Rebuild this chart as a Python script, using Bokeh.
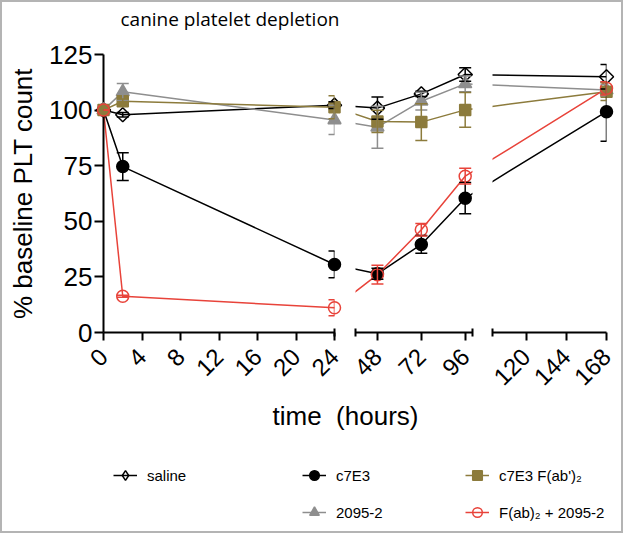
import math
from bokeh.plotting import figure
from bokeh.models import (ColumnDataSource, Range1d, FixedTicker, Whisker, TeeHead,
                          Legend, LegendItem, Label)
from bokeh.layouts import row, column
from bokeh.embed import file_html
from bokeh.resources import INLINE

# ---------------- data ----------------
hours = [0, 2, 24, 48, 72, 96, 168]

saline = [100, 97.9, 102.2, 100.9, 107.3, 116.0, 115.0]
saline_err = [0, 1.0, 1.5, 5.0, 1.2, 3.0, 5.5]

c7e3 = [100, 74.6, 30.6, 26.4, 39.6, 60.4, 99.3]
c7e3_err = [0, 6.2, 6.0, 2.5, 4.0, 7.0, 13.3]

fab = [100, 104.0, 101.3, 94.9, 94.6, 100.1, 108.3]
fab_err = [0, 1.0, 5.2, 5.0, 8.3, 7.8, 4.0]

a2095 = [100, 108.2, 95.6, 92.3, 104.0, 111.8, 109.0]
a2095_err = [0, 3.8, 6.6, 9.4, 4.0, 3.5, 2.5]

fab_2095 = [100, 16.3, 11.1, 26.0, 46.2, 70.3, 109.8]
fab_2095_err = [0, 0.5, 3.6, 4.2, 2.8, 3.5, 3.0]

names = ["saline", "c7E3", "c7E3 F(ab')\u2082", "2095-2", "F(ab)\u2082 + 2095-2"]

seg_lo = [0, 36, 100]
seg_hi = [24, 100, 168]
seg_ticks = [[0, 4, 8, 12, 16, 20, 24], [48, 72, 96], [120, 144, 168]]
seg_caps = [[24], [36, 100], [100]]
y_ticks = [0, 25, 50, 75, 100, 125]

# ---------------- layout / style ----------------
FONT = "Liberation Sans"
frame_w = [231, 117, 114]
frame_h = 278
border_l = [101, 11, 10]
border_r = [10, 10, 15]
TH = 30
border_t = 52 - TH
border_b = 66

series = [
    dict(y=saline, e=saline_err, color="black", marker="square", angle=math.pi / 4, size=10, fill=False, lmarker="diamond"),
    dict(y=c7e3, e=c7e3_err, color="black", marker="circle", angle=0, size=12, fill=True, lmarker="circle"),
    dict(y=fab, e=fab_err, color="#8c7b3c", marker="square", angle=0, size=11, fill=True, lmarker="square"),
    dict(y=a2095, e=a2095_err, color="#8e8e8e", marker="triangle", angle=0, size=13, fill=True, lmarker="triangle"),
    dict(y=fab_2095, e=fab_2095_err, color="#e8433a", marker="circle", angle=0, size=12, fill=False, lmarker="circle"),
]
draw_order = [0, 1, 3, 2, 4]

# common display coordinate across the broken axis
lefts = [0]
for k in range(1, 3):
    lefts.append(lefts[-1] + frame_w[k - 1] + border_r[k - 1] + border_l[k])


def g(h):
    for k in range(3):
        if seg_lo[k] <= h <= seg_hi[k]:
            return lefts[k] + (h - seg_lo[k]) * frame_w[k] / (seg_hi[k] - seg_lo[k])
    raise ValueError(h)


def to_seg(h, k):
    return seg_lo[k] + (g(h) - lefts[k]) * (seg_hi[k] - seg_lo[k]) / frame_w[k]


def blank(w, h):
    f = figure(frame_width=w, frame_height=h, x_range=Range1d(0, w), y_range=Range1d(0, h),
               x_axis_location=None, y_axis_location=None, min_border=0,
               toolbar_location=None, output_backend="svg")
    f.grid.visible = False
    f.outline_line_color = None
    f.border_fill_color = None
    f.background_fill_color = None
    return f


BW = sum(frame_w) + sum(border_l) + sum(border_r)

# ---------------- top: title ----------------
ft = blank(BW, TH)
ft.add_layout(Label(x=118, y=TH - 16, x_units="screen", y_units="screen",
                    text="canine platelet depletion", text_font="Open Sans",
                    text_font_size="19px", text_color="black",
                    text_align="left", text_baseline="middle"))

# ---------------- chart segments ----------------
y_range = Range1d(0, 125)
figs = []
for k in range(3):
    f = figure(frame_width=frame_w[k], frame_height=frame_h,
               x_range=Range1d(seg_lo[k], seg_hi[k]), y_range=y_range,
               min_border_left=border_l[k], min_border_right=border_r[k],
               min_border_top=border_t, min_border_bottom=border_b,
               toolbar_location=None, output_backend="svg",
               y_axis_location="left" if k == 0 else None)
    f.grid.visible = False
    f.outline_line_color = None
    f.background_fill_color = None
    f.border_fill_color = None
    ax = f.xaxis[0]
    ax.ticker = FixedTicker(ticks=seg_ticks[k], minor_ticks=seg_caps[k])
    ax.axis_line_width = 2
    ax.major_tick_line_width = 2
    ax.minor_tick_line_width = 2
    ax.major_tick_in = 0
    ax.major_tick_out = 8
    ax.minor_tick_in = 4
    ax.minor_tick_out = 4
    ax.major_label_orientation = math.pi / 4
    ax.major_label_text_font = FONT
    ax.major_label_text_font_size = "24px"
    ax.major_label_text_color = "black"
    ax.major_label_standoff = 12
    if k == 0:
        yax = f.yaxis[0]
        yax.ticker = FixedTicker(ticks=y_ticks, minor_ticks=[])
        yax.axis_line_width = 2
        yax.major_tick_line_width = 2
        yax.major_tick_in = 0
        yax.major_tick_out = 9
        yax.major_label_text_font = FONT
        yax.major_label_text_font_size = "26px"
        yax.major_label_text_color = "black"
        yax.major_label_standoff = 2
        yax.axis_label = "% baseline PLT count"
        yax.axis_label_text_font = FONT
        yax.axis_label_text_font_size = "26px"
        yax.axis_label_text_font_style = "normal"
        yax.axis_label_text_color = "black"
        yax.axis_label_standoff = 8

    for i in draw_order:
        s = series[i]
        xs = [to_seg(h, k) for h in hours]
        f.line(xs, s["y"], line_color=s["color"], line_width=1.5)
    for i in draw_order:
        s = series[i]
        idx = [j for j, h in enumerate(hours) if seg_lo[k] <= h <= seg_hi[k]]
        src = ColumnDataSource(dict(
            x=[hours[j] for j in idx],
            y=[s["y"][j] for j in idx],
            lo=[s["y"][j] - s["e"][j] for j in idx],
            hi=[s["y"][j] + s["e"][j] for j in idx]))
        f.add_layout(Whisker(base="x", upper="hi", lower="lo", source=src, dimension="height",
                             line_color=s["color"], line_width=1.5, level="overlay",
                             upper_head=TeeHead(size=12, line_color=s["color"], line_width=1.5),
                             lower_head=TeeHead(size=12, line_color=s["color"], line_width=1.5)))
        f.scatter("x", "y", source=src, marker=s["marker"], size=s["size"], angle=s["angle"],
                  line_color=s["color"], line_width=1.5,
                  fill_color=s["color"] if s["fill"] else None, level="overlay")
    figs.append(f)

# ---------------- bottom: x label + legend ----------------
BH = 133
fb = blank(BW, BH)
fb.add_layout(Label(x=343, y=116, x_units="screen", y_units="screen",
                    text="time\u00a0 (hours)", text_font=FONT, text_color="black",
                    text_font_size="26px", text_align="center", text_baseline="middle"))

items = []
for i, s in enumerate(series):
    lr = fb.line([-50, -40], [-50, -40], line_color=s["color"], line_width=1.5)
    mr = fb.scatter([-50], [-50], marker=s["lmarker"], size=s["size"],
                    line_color=s["color"], line_width=1.5,
                    fill_color=s["color"] if s["fill"] else None)
    items.append(LegendItem(label=names[i], renderers=[lr, mr]))

legend_cols = [[0], [1, 3], [2, 4]]
legend_x = [111, 300, 463]
legend_y = [43, 6, 6]
for c, col in enumerate(legend_cols):
    lg = Legend(items=[items[i] for i in col], location=(legend_x[c], legend_y[c]),
                orientation="vertical", glyph_width=24, glyph_height=26, label_height=26,
                spacing=11, label_standoff=10, padding=0, margin=0,
                border_line_color=None, background_fill_alpha=0,
                label_text_font=FONT, label_text_font_size="15px",
                label_text_color="black")
    fb.add_layout(lg, "center")

layout = column(ft, row(*figs), fb, styles={"border": "2px solid #b4b4b4"})

with open("out.html", "w") as fh:
    fh.write(file_html(layout, INLINE))
